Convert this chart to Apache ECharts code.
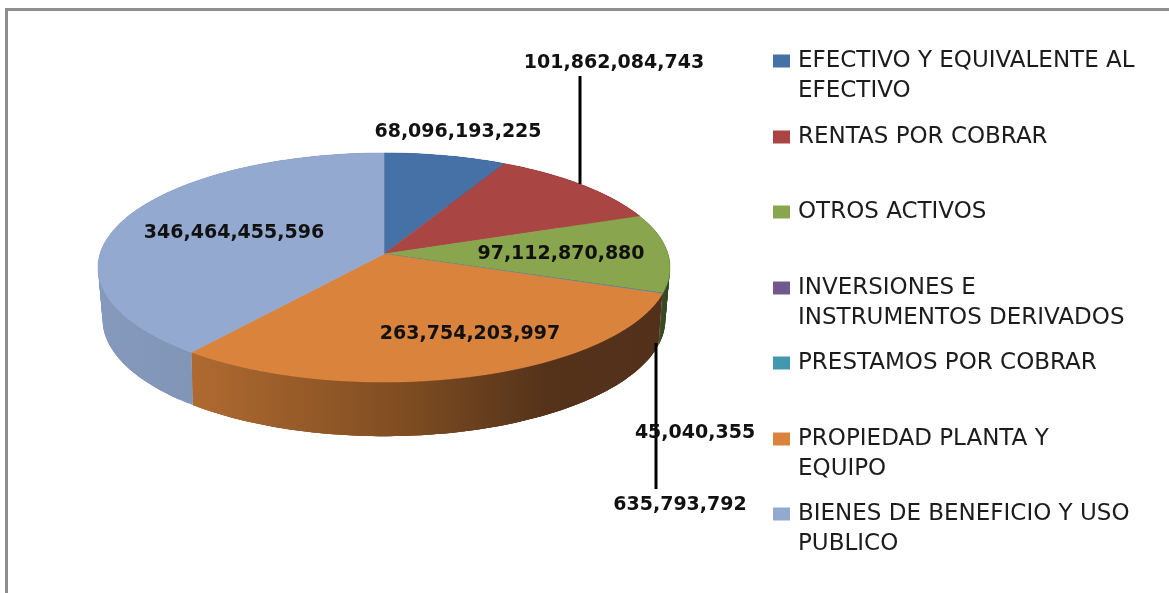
<!DOCTYPE html>
<html>
<head>
<meta charset="utf-8">
<style>html,body{margin:0;padding:0;background:#fff}#c{width:1169px;height:593px}</style>
<script src="https://cdn.jsdelivr.net/npm/echarts@6/dist/echarts.min.js"></script>
</head>
<body>
<div id="c"></div>
<script>
var categories = [
  'EFECTIVO Y EQUIVALENTE AL\nEFECTIVO',
  'RENTAS POR COBRAR',
  'OTROS ACTIVOS',
  'INVERSIONES E\nINSTRUMENTOS DERIVADOS',
  'PRESTAMOS POR COBRAR',
  'PROPIEDAD PLANTA Y\nEQUIPO',
  'BIENES DE BENEFICIO Y USO\nPUBLICO'
];
var values = [68096193225, 101862084743, 97112870880, 45040355, 635793792, 263754203997, 346464455596];
var colors = ['#4571a7', '#a94543', '#89a54e', '#71588f', '#4198af', '#da833d', '#93a9cf'];

// styling / layout only
var sideStops = [
  [[0,'#34557d'],[1,'#34557d']],
  [[0,'#7a3230'],[1,'#7a3230']],
  [[0,'#4b5f2c'],[1,'#33451f']],
  [[0,'#4a3a5e'],[1,'#4a3a5e']],
  [[0,'#2b6474'],[1,'#2b6474']],
  [[0,'#b06a30'],[0.45,'#7f4d22'],[0.75,'#55331a'],[1,'#52301a']],
  [[0,'#8499bb'],[0.55,'#7f93b5'],[1,'#7185a8']]
];
var labelAt = [[458,132],[614,63],[561,254],[695,433],[680,505],[470,334],[234,233]];
var legendY = [61,137,212,288,363,439,514];
var CX = 384;
var TOP = {a:284, b:112.9, p:0.118, y:254};
var BOT = {a:279, b:115, p:0.13, y:304};
var total = values.reduce(function(s,v){return s+v;},0);

function rim(L, deg){
  var t = deg*Math.PI/180, u = Math.sin(t), v = Math.cos(t), d = 1+L.p*v;
  return [CX + L.a*u/d, L.y - L.b*v/d];
}
function arc(L, from, to){
  var n = Math.max(2, Math.ceil((to-from)/1.5)+1), out = [];
  for (var i=0;i<n;i++) out.push(rim(L, from+(to-from)*i/(n-1)));
  return out;
}
function renderer(idx){
  var before = values.slice(0,idx).reduce(function(s,v){return s+v;},0);
  return function(params, api){
    var from = before/total*360, to = (before+api.value(0))/total*360;
    var top = arc(TOP, from, to), bot = arc(BOT, from, to);
    var xs = top.concat(bot).map(function(p){return p[0];});
    var x0 = Math.min.apply(null,xs), x1 = Math.max.apply(null,xs);
    var grad = new echarts.graphic.LinearGradient(x0,0,Math.max(x1,x0+1),0,
      sideStops[idx].map(function(s){return {offset:s[0],color:s[1]};}), true);
    var kids = [];
    for (var q=0;q<top.length-1;q++){
      var e = Math.min(q+3, top.length-1);
      kids.push({type:'polygon', z2:1+idx, shape:{points:top.slice(q,e+1).concat(bot.slice(q,e+1).reverse())},
        style:{fill:grad}});
    }
    kids.push({type:'polygon', z2:20, shape:{points:[[CX,TOP.y]].concat(top)},
       style:{fill:colors[idx], stroke:colors[idx], lineWidth:0.6}});
    var a = labelAt[idx];
    kids.push({type:'text', z2:40, style:{
      text:api.value(0).toLocaleString('en-US'), x:a[0], y:a[1], align:'center', verticalAlign:'middle',
      font:'bold 19px "DejaVu Sans"', fill:'#111'}});
    if (idx===1) kids.push({type:'line', z2:30, shape:{x1:580,y1:76,x2:580,y2:184}, style:{stroke:'#000',lineWidth:3}});
    if (idx===4) kids.push({type:'line', z2:30, shape:{x1:656,y1:343,x2:656,y2:489}, style:{stroke:'#000',lineWidth:3}});
    return {type:'group', children:kids};
  };
}
var option = {
  animation:false,
  backgroundColor:'#fff',
  color:colors,
  graphic:[
    {type:'rect', shape:{x:5,y:8,width:1164,height:3}, style:{fill:'#8f8f8f'}},
    {type:'rect', shape:{x:5,y:8,width:3,height:585}, style:{fill:'#8f8f8f'}}
  ],
  legend:categories.map(function(name,i){
    var two = name.indexOf('\n')>=0;
    return {
      data:[name], selectedMode:false, left:773, top:legendY[i]-(two?45:15), padding:0,
      orient:'vertical', itemWidth:17, itemHeight:13, icon:'rect',
      formatter:function(n){return n.indexOf('\n')>=0 ? '\n'+n : n;},
      textStyle:{fontFamily:'DejaVu Sans',fontSize:23,lineHeight:30,color:'#1c1c1c',padding:[0,0,0,3]}
    };
  }),
  series:categories.map(function(name,i){
    return {type:'custom', name:name, coordinateSystem:'none', silent:true,
      renderItem:renderer(i), data:[[values[i]]], itemStyle:{color:colors[i]}};
  })
};
echarts.init(document.getElementById('c'),null,{renderer:'canvas'}).setOption(option);
</script>
</body>
</html>
